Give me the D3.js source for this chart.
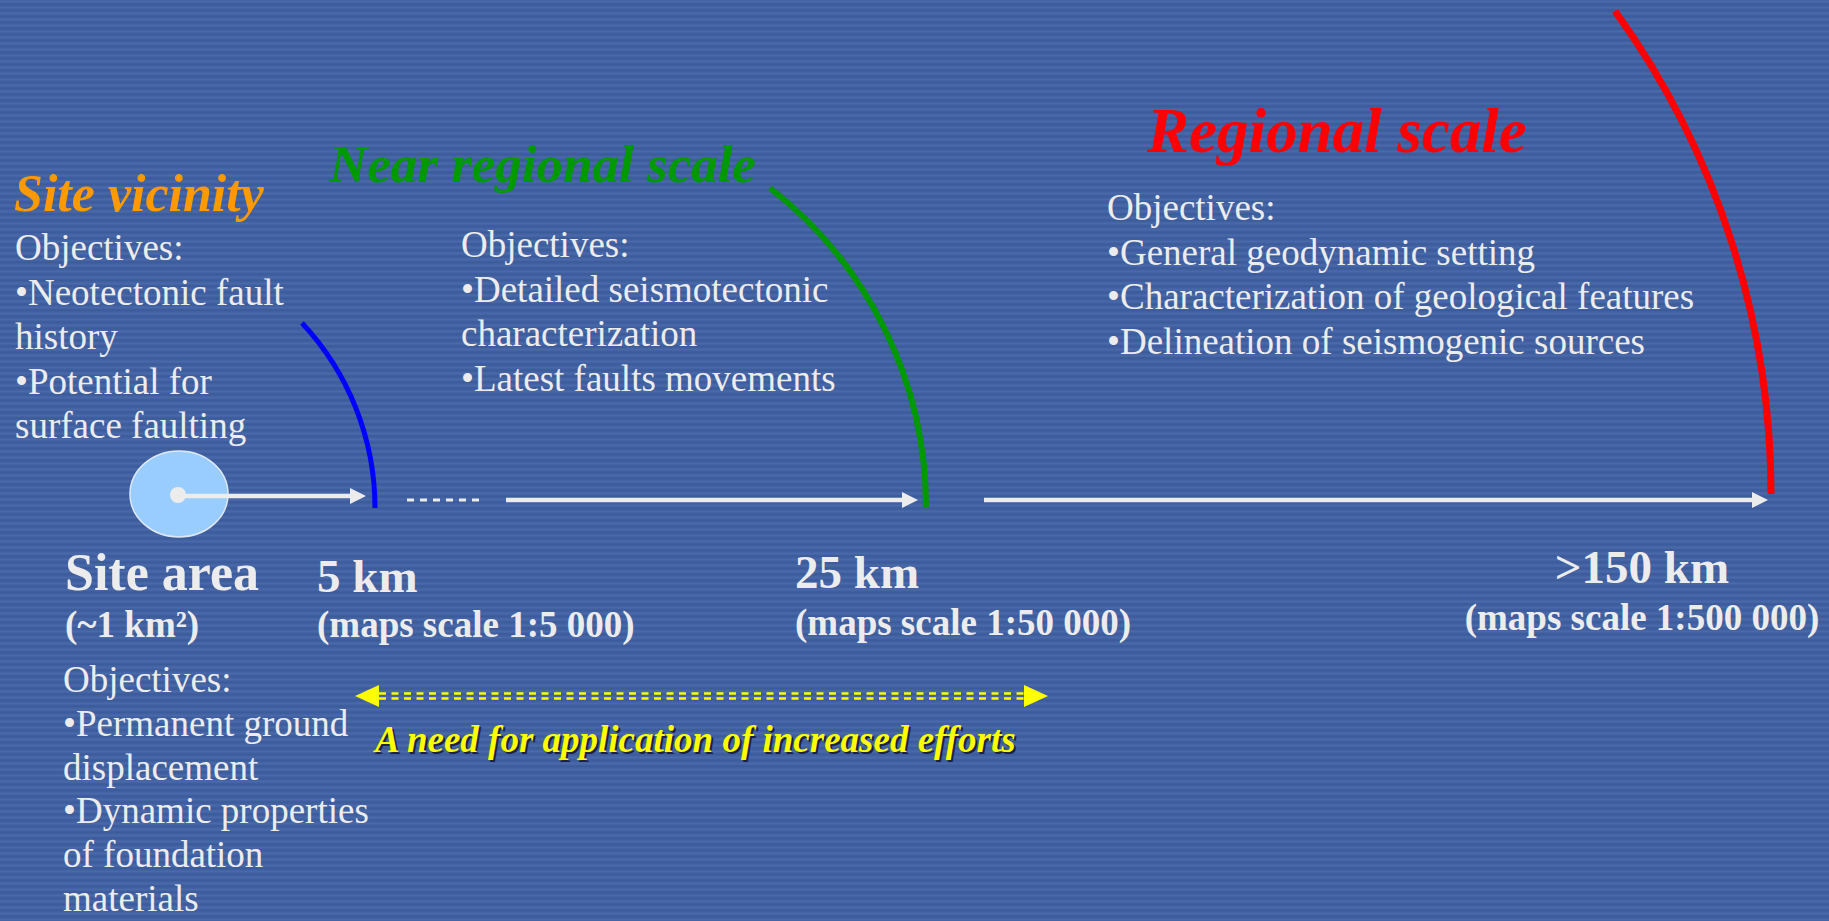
<!DOCTYPE html>
<html>
<head>
<meta charset="utf-8">
<title>Investigation scales</title>
<script src="https://d3js.org/d3.v7.min.js"></script>
<style>
  html, body { margin: 0; padding: 0; background: #4161a1; overflow: hidden; }
  text { font-family: "Liberation Serif", "Times New Roman", serif; }
</style>
</head>
<body>
<div id="chart"></div>
<script>
// distances along the axis (km) and their labels
var stageKm = [0, 5, 25, 150];
var stageLabels = ["Site area", "5 km", "25 km", ">150 km"];
var stageNotes = ["(~1 km²)", "(maps scale 1:5 000)", "(maps scale 1:50 000)", "(maps scale 1:500 000)"];

// zones, each bounded by an arc at its outer distance
var zoneKm = [5, 25, 150];
var zoneTitles = ["Site vicinity", "Near regional scale", "Regional scale"];

// objective lists
var siteObjectives = ["Objectives:", "•Permanent ground", "displacement", "•Dynamic properties", "of foundation", "materials"];
var vicinityObjectives = ["Objectives:", "•Neotectonic fault", "history", "•Potential for", "surface faulting"];
var nearObjectives = ["Objectives:", "•Detailed seismotectonic", "characterization", "•Latest faults movements"];
var regionalObjectives = ["Objectives:", "•General geodynamic setting", "•Characterization of geological features", "•Delineation of seismogenic sources"];

var effortNote = "A need for application of increased efforts";

// ---- layout ----
var width = 1829, height = 921;
var axisY = 500;
var white = "#ececec";

// distance scale (piecewise, not proportional)
var x = d3.scaleLinear().domain(stageKm).range([178, 375, 926, 1771]);

var svg = d3.select("#chart")
  .append("svg")
    .attr("width", width)
    .attr("height", height);

// striped background
var defs = svg.append("defs");
var stripes = ["#4464a5", "#4969aa", "#4464a5", "#3e5e9d", "#3b5b9a", "#4060a0"];
var pat = defs.append("pattern")
  .attr("id", "scan")
  .attr("patternUnits", "userSpaceOnUse")
  .attr("width", 10)
  .attr("height", stripes.length);
pat.selectAll("rect")
  .data(stripes)
  .enter()
  .append("rect")
    .attr("x", 0)
    .attr("y", function(d, i) { return i; })
    .attr("width", 10)
    .attr("height", 1)
    .attr("fill", function(d) { return d; });

svg.append("rect")
  .attr("width", width)
  .attr("height", height)
  .attr("fill", "url(#scan)");

// arrow helper
function arrowHead(g, tipX, y, len, half, color) {
  g.append("path")
    .attr("d", "M" + tipX + "," + y + "L" + (tipX - len) + "," + (y - half) + "L" + (tipX - len) + "," + (y + half) + "Z")
    .attr("fill", color);
}

// ---- site area disc ----
svg.append("ellipse")
  .attr("cx", x(0) + 1)
  .attr("cy", 494)
  .attr("rx", 49)
  .attr("ry", 43)
  .attr("fill", "#99ccff")
  .attr("stroke", "#dfe8f2")
  .attr("stroke-width", 1.5);

// ---- arrows along the axis ----
var arrows = [
  {from: 0, to: 5, y: 496, startPad: 0, endPad: 9},
  {from: 5, to: 25, y: axisY, startPad: 131, endPad: 8},
  {from: 25, to: 150, y: axisY, startPad: 58, endPad: 3}
];
var ag = svg.append("g");
arrows.forEach(function(a) {
  var x0 = x(a.from) + a.startPad, x1 = x(a.to) - a.endPad;
  ag.append("line")
    .attr("x1", x0).attr("x2", x1 - 12)
    .attr("y1", a.y).attr("y2", a.y)
    .attr("stroke", white)
    .attr("stroke-width", 4.5);
  arrowHead(ag, x1, a.y, 16, 8, white);
});

// dashed gap after 5 km
svg.append("line")
  .attr("x1", x(5) + 32).attr("x2", x(5) + 109)
  .attr("y1", axisY).attr("y2", axisY)
  .attr("stroke", white)
  .attr("stroke-width", 3)
  .attr("stroke-dasharray", "7 6");

svg.append("circle")
  .attr("cx", x(0))
  .attr("cy", 495)
  .attr("r", 8)
  .attr("fill", white);

// ---- arcs bounding each zone ----
var arcStyle = [
  {color: "#0000ff", w: 5, bottomY: 508, lean: 73, topY: 323},
  {color: "#009900", w: 6, bottomY: 507, lean: 156, topY: 188},
  {color: "#ff0000", w: 7, bottomY: 494, lean: 156, topY: 11}
];
zoneKm.forEach(function(km, i) {
  var s = arcStyle[i];
  var bx = x(km), by = s.bottomY;
  var dy = by - s.topY, dx = s.lean;
  var r = (dx * dx + dy * dy) / (2 * dx);
  var cx = bx - r, cy = by;
  var a0 = Math.atan2(s.topY - cy, (bx - dx) - cx);
  var p = d3.path();
  p.arc(cx, cy, r, a0, 0, false);
  svg.append("path")
    .attr("d", p.toString())
    .attr("fill", "none")
    .attr("stroke", s.color)
    .attr("stroke-width", s.w);
});

// ---- zone titles ----
var titleStyle = [
  {x: 14, y: 211, size: 52, color: "#ff9900"},
  {x: 329, y: 182, size: 53, color: "#009900"},
  {x: 1147, y: 152, size: 63, color: "#ff0000"}
];
svg.selectAll(".title")
  .data(zoneTitles)
  .enter()
  .append("text")
    .attr("class", "title")
    .attr("x", function(d, i) { return titleStyle[i].x; })
    .attr("y", function(d, i) { return titleStyle[i].y; })
    .attr("font-size", function(d, i) { return titleStyle[i].size; })
    .attr("font-weight", "bold")
    .attr("font-style", "italic")
    .attr("fill", function(d, i) { return titleStyle[i].color; })
    .text(function(d) { return d; });

// ---- objective blocks ----
var blocks = [
  {lines: vicinityObjectives, x: 15, y: 260, lh: 44.5},
  {lines: nearObjectives, x: 461, y: 257, lh: 44.5},
  {lines: regionalObjectives, x: 1107, y: 220, lh: 44.5},
  {lines: siteObjectives, x: 63, y: 692, lh: 43.8}
];
blocks.forEach(function(b) {
  svg.append("g")
    .selectAll("text")
    .data(b.lines)
    .enter()
    .append("text")
      .attr("x", b.x)
      .attr("y", function(d, i) { return b.y + i * b.lh; })
      .attr("font-size", 37)
      .attr("fill", white)
      .text(function(d) { return d; });
});

// ---- distance labels ----
var labelPos = [
  {x: 65, y: 590, ny: 637, size: 52, anchor: "start"},
  {x: 317, y: 592, ny: 637, size: 47, anchor: "start"},
  {x: 795, y: 588, ny: 635, size: 47, anchor: "start"},
  {x: 1642, y: 583, ny: 630, size: 47, anchor: "middle"}
];
svg.selectAll(".stage")
  .data(stageLabels)
  .enter()
  .append("text")
    .attr("class", "stage")
    .attr("x", function(d, i) { return labelPos[i].x; })
    .attr("y", function(d, i) { return labelPos[i].y; })
    .attr("text-anchor", function(d, i) { return labelPos[i].anchor; })
    .attr("font-size", function(d, i) { return labelPos[i].size; })
    .attr("font-weight", "bold")
    .attr("fill", white)
    .text(function(d) { return d; });

svg.selectAll(".note")
  .data(stageNotes)
  .enter()
  .append("text")
    .attr("class", "note")
    .attr("x", function(d, i) { return labelPos[i].x; })
    .attr("y", function(d, i) { return labelPos[i].ny; })
    .attr("text-anchor", function(d, i) { return labelPos[i].anchor; })
    .attr("font-size", 37)
    .attr("font-weight", "bold")
    .attr("fill", white)
    .text(function(d) { return d; });

// ---- increased efforts double arrow ----
var yellow = "#ffff00";
var ey = 696, ex0 = 355, ex1 = 1048;
var eg = svg.append("g");
[-2.5, 2.5].forEach(function(off) {
  eg.append("line")
    .attr("x1", ex0 + 24).attr("x2", ex1 - 23)
    .attr("y1", ey + off).attr("y2", ey + off)
    .attr("stroke", yellow)
    .attr("stroke-width", 2.5)
    .attr("stroke-dasharray", "7 5.5");
});
arrowHead(eg, ex1, ey, 24, 11, yellow);
arrowHead(eg, ex0, ey, -24, 11, yellow);

[{dx: 2, dy: 2, c: "#1b2246"}, {dx: 0, dy: 0, c: yellow}].forEach(function(s) {
  eg.append("text")
    .attr("x", 375 + s.dx)
    .attr("y", 752 + s.dy)
    .attr("font-size", 37)
    .attr("font-weight", "bold")
    .attr("font-style", "italic")
    .attr("fill", s.c)
    .text(effortNote);
});
</script>
</body>
</html>
